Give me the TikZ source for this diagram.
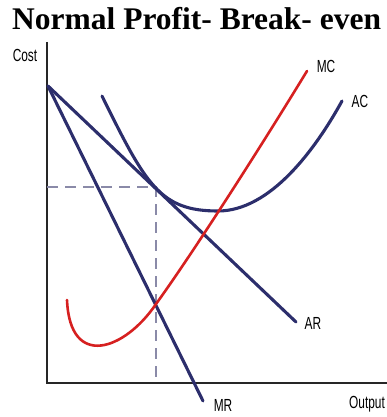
\documentclass[tikz,border=0pt]{standalone}
\usepackage{fontspec}
\setmainfont{Liberation Serif}
\newfontfamily\axisfont[FakeStretch=0.68]{Liberation Sans}
\usetikzlibrary{positioning}

\definecolor{navy}{RGB}{44,46,108}
\definecolor{mcred}{RGB}{214,32,32}
\definecolor{guide}{RGB}{138,138,168}

\begin{document}
\begin{tikzpicture}[
  x=1pt, y=-1pt,
  axis/.style={line width=1.5pt, black!85},
  curve/.style={line width=3.1pt, navy, line cap=round},
  mccurve/.style={line width=2.6pt, mcred, line cap=round},
  guideline/.style={line width=2.8pt, guide, dash pattern=on 11pt off 7pt},
  lbl/.style={font=\axisfont\fontsize{17.5}{19}\selectfont, inner sep=0pt},
  title/.style={font=\bfseries\fontsize{31.5}{36}\selectfont, inner sep=0pt}
]
  \useasboundingbox (0,0) rectangle (387,417);

  % heading
  \node[title, anchor=base west] (head) at (12,30) {Normal Profit- Break- even};

  % axes
  \coordinate (origin) at (47,383);
  \coordinate (ytop) at (47,42);
  \coordinate (xend) at (387,383);
  \draw[axis] (ytop) -- (origin) -- (xend);
  \node[lbl] (cost) at (25,55) {Cost};
  \node[lbl] (output) at (367,404) {Output};

  % break-even point and guides
  \coordinate (be) at (156,187);
  \coordinate (beY) at (47,187);
  \coordinate (beX) at (156,383);
  \draw[guideline] (beY) -- (be) -- (beX);

  % demand side
  \coordinate (pmax) at (48,86);
  \node[lbl] (ar) at (313,323) {AR};
  \node[lbl] (mr) at (223,405) {MR};
  \coordinate (arend) at (296,322);
  \coordinate (mrend) at (203,401);
  \draw[curve] (pmax) -- (arend);
  \draw[curve] (pmax) -- (mrend);

  % average cost
  \coordinate (acstart) at (102,96);
  \coordinate (acmin) at (218,211);
  \coordinate (acend) at (342,101);
  \node[lbl] (ac) at (360,101) {AC};
  \draw[curve] (acstart) .. controls (146,185) and (160,211) .. (acmin)
    .. controls (270,211) and (315,150) .. (acend);

  % marginal cost
  \coordinate (mcstart) at (67,300);
  \coordinate (mcmr) at (156,304);
  \coordinate (mcend) at (307,71);
  \node[lbl] (mc) at (326,66) {MC};
  \draw[mccurve] (mcstart) .. controls (70,370) and (125,350) .. (mcmr)
    .. controls (195,250) and (265,140) .. (mcend);
\end{tikzpicture}
\end{document}
